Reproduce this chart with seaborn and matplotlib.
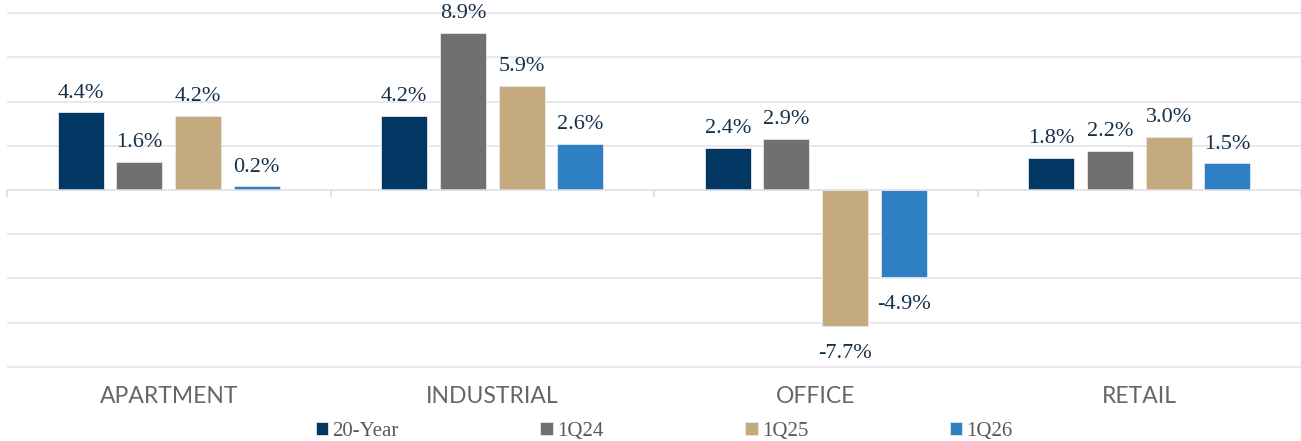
import matplotlib
matplotlib.use("Agg")
import matplotlib.pyplot as plt
import seaborn as sns
import pandas as pd

categories = ["APARTMENT", "INDUSTRIAL", "OFFICE", "RETAIL"]
series = ["20-Year", "1Q24", "1Q25", "1Q26"]
values_20yr = [4.4, 4.2, 2.4, 1.8]
values_1q24 = [1.6, 8.9, 2.9, 2.2]
values_1q25 = [4.2, 5.9, -7.7, 3.0]
values_1q26 = [0.2, 2.6, -4.9, 1.5]
colors = ["#023764", "#707070", "#C5AA7D", "#2F7FC4"]

rows = []
for s, vals in zip(series, [values_20yr, values_1q24, values_1q25, values_1q26]):
    for c, v in zip(categories, vals):
        rows.append({"Category": c, "Series": s, "Value": v})
df = pd.DataFrame(rows)

sns.set_theme(style="white")
W, H = 1301, 441
fig = plt.figure(figsize=(W / 100, H / 100), dpi=100)

ylo, yhi = -10.15, 10.15
top_px = 13.3 - 0.15 * 17.67
bot_px = 366.7 + 0.15 * 17.67
left_px, right_px = 7, 1301
ax = fig.add_axes([left_px / W, 1 - bot_px / H, (right_px - left_px) / W, (bot_px - top_px) / H])

sns.barplot(data=df, x="Category", y="Value", hue="Series", order=categories,
            hue_order=series, palette=colors, width=0.725, gap=0.215,
            edgecolor="#e6e6ea", linewidth=0.6, saturation=1, ax=ax, legend=True)

ax.set_xlim(-0.5, 3.5)
ax.set_ylim(ylo, yhi)
ax.set_yticks([-10, -7.5, -5, -2.5, 0, 2.5, 5, 7.5, 10])
ax.set_yticklabels([])
ax.tick_params(axis="y", length=0)
ax.grid(axis="y", color="#e2e2e8", linewidth=1.1)
ax.set_axisbelow(True)
for sp in ["top", "right", "left"]:
    ax.spines[sp].set_visible(False)
ax.spines["bottom"].set_position(("data", 0))
ax.spines["bottom"].set_color("#e2e2e8")
ax.spines["bottom"].set_linewidth(1.1)
ax.set_xlabel("")
ax.set_ylabel("")

ax.set_xticks([0, 1, 2, 3])
ax.set_xticklabels(categories, fontfamily="Lato", fontweight="normal",
                   fontsize=16.5, color="#666666")
ax.set_xticks([-0.5, 0.5, 1.5, 2.5, 3.5], minor=True)
ax.tick_params(axis="x", which="major", length=0, pad=141)
ax.tick_params(axis="x", which="minor", length=5, width=1.1, color="#d8d8de",
               direction="out", bottom=True)

for cont in ax.containers:
    pos_labels = [f"{b.get_height():.1f}%" if b.get_height() >= 0 else "" for b in cont]
    neg_labels = [f"{b.get_height():.1f}%" if b.get_height() < 0 else "" for b in cont]
    ax.bar_label(cont, labels=pos_labels, padding=7, fontsize=16,
                 fontfamily="Liberation Serif", color="#15304a")
    ax.bar_label(cont, labels=neg_labels, padding=13, fontsize=16,
                 fontfamily="Liberation Serif", color="#15304a")

handles, labs = ax.get_legend_handles_labels()
ax.legend(handles, labs, ncol=4, loc="lower center", bbox_to_anchor=(0.5105, -0.018),
          bbox_transform=fig.transFigure, frameon=False, handlelength=0.6,
          handleheight=0.6, handletextpad=0.2, columnspacing=6.8,
          prop={"family": "Liberation Serif", "size": 15}, labelcolor="#595959",
          borderaxespad=0)

fig.savefig("out.png", dpi=100)
